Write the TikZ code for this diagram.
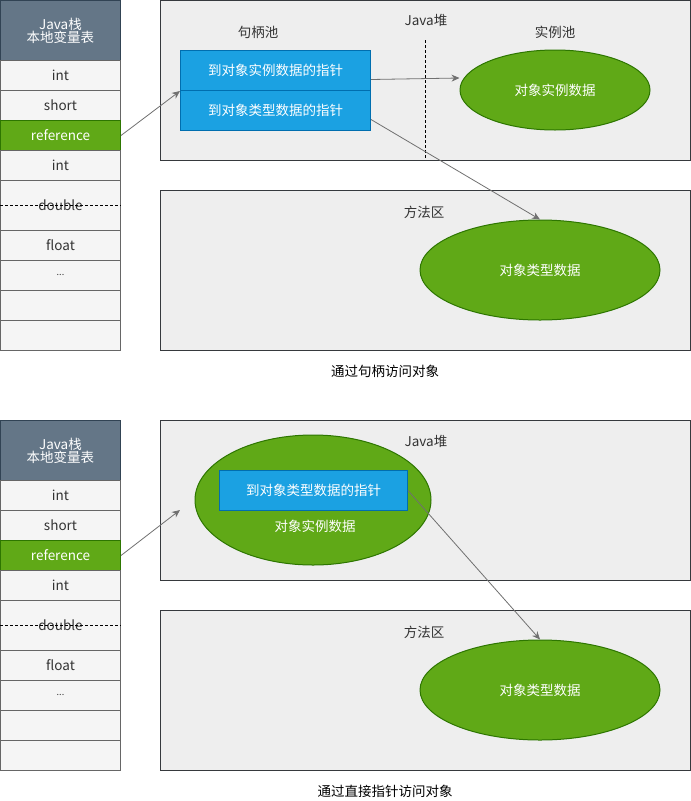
\documentclass[tikz,border=0pt]{standalone}
\usepackage{fontspec}
\setmainfont{Noto Sans CJK SC}
\usetikzlibrary{arrows.meta}
\definecolor{hdrfill}{HTML}{647687}
\definecolor{hdrline}{HTML}{314354}
\definecolor{rowfill}{HTML}{F5F5F5}
\definecolor{rowline}{HTML}{666666}
\definecolor{grnfill}{HTML}{60A917}
\definecolor{grnline}{HTML}{2D7600}
\definecolor{blufill}{HTML}{1BA1E2}
\definecolor{bluline}{HTML}{006EAF}
\definecolor{boxfill}{HTML}{EEEEEE}
\definecolor{boxline}{HTML}{36393D}
\definecolor{txt}{HTML}{333333}
\definecolor{arr}{HTML}{707070}
\tikzset{
  base/.style={inner sep=0pt, anchor=north west, line width=1pt, font=\fontsize{13.5}{16}\selectfont},
  hdr/.style={base, draw=hdrline, fill=hdrfill, text=white, minimum width=120pt, minimum height=60pt, align=center},
  row/.style={base, draw=rowline, fill=rowfill, text=txt, minimum width=120pt, minimum height=30pt},
  refrow/.style={base, draw=grnline, fill=grnfill, text=white, minimum width=120pt, minimum height=30pt},
  area/.style={base, draw=boxline, fill=boxfill, minimum width=530pt, minimum height=160pt},
  ptr/.style={base, draw=bluline, fill=blufill, text=white, minimum width=190pt, minimum height=40pt},
  blob/.style={ellipse, draw=grnline, fill=grnfill, text=white, line width=1pt, inner sep=0pt, font=\fontsize{13.5}{16}\selectfont},
  lbl/.style={inner sep=0pt, text=txt, font=\fontsize{13.5}{16}\selectfont},
  conn/.style={draw=arr, line width=0.8pt, -{Stealth[length=8pt,width=7pt]}}
}
\usetikzlibrary{shapes.geometric}
\newcommand\jstack[2]{%
  \node[hdr] (#1h) at (0,#2) {Java栈\\[-3pt]本地变量表};
  \node[row] (#1a) at (0,#2+60) {int};
  \node[row] (#1b) at (0,#2+90) {short};
  \node[refrow] (#1ref) at (0,#2+120) {reference};
  \node[row] (#1c) at (0,#2+150) {int};
  \node[row, minimum height=50pt] (#1d) at (0,#2+180) {double};
  \draw[black, line width=0.7pt, dash pattern=on 3pt off 2pt] (#1d.west) -- (#1d.east);
  \node[row] (#1e) at (0,#2+230) {float};
  \node[row] (#1f) at (0,#2+260) {\raisebox{2pt}{\fontsize{9}{9}\selectfont ...}};
  \node[row] (#1g) at (0,#2+290) {};
  \node[row] (#1i) at (0,#2+320) {};
}
\begin{document}
\begin{tikzpicture}[x=1pt,y=-1pt]
\useasboundingbox (0,0) rectangle (691,801);
% ---------- top diagram ----------
\jstack{s}{0}
\node[area] (heap1) at (160,0) {};
\node[area] (meth1) at (160,190) {};
\node[lbl] (lh) at (258,32) {句柄池};
\node[lbl] (lj1) at (426,20) {Java堆};
\node[lbl] (li) at (555,32) {实例池};
\coordinate (dtop) at (425,40);
\coordinate (dbot) at (425,158);
\draw[black, line width=0.7pt, dash pattern=on 3pt off 2pt] (dtop) -- (dbot);
\node[ptr] (p1) at (180,50) {到对象实例数据的指针};
\node[ptr] (p2) at (180,90) {到对象类型数据的指针};
\node[blob, minimum width=190pt, minimum height=80pt] (inst1) at (555,90) {对象实例数据};
\node[lbl] (lm1) at (424,212) {方法区};
\node[blob, minimum width=240pt, minimum height=100pt] (type1) at (540,270) {对象类型数据};
\node[lbl, text=black] (cap1) at (385,371) {通过句柄访问对象};
\draw[conn] (sref.east) -- (p1.south west);
\draw[conn] ([yshift=-9pt]p1.east) -- (inst1.west |- 0,78);
\draw[conn] ([yshift=-9pt]p2.east) -- (type1.north);
% ---------- bottom diagram ----------
\jstack{t}{420}
\node[area] (heap2) at (160,420) {};
\node[area] (meth2) at (160,610) {};
\node[lbl] (lj2) at (426,441) {Java堆};
\node[blob, minimum width=236pt, minimum height=130pt] (inst2) at (313,500) {};
\node[ptr, minimum width=188pt] (p3) at (219,470) {到对象类型数据的指针};
\node[lbl, text=white] (li2) at (315,526) {对象实例数据};
\coordinate (tip2) at (180,510);
\node[lbl] (lm2) at (424,632) {方法区};
\node[blob, minimum width=240pt, minimum height=100pt] (type2) at (540,690) {对象类型数据};
\node[lbl, text=black] (cap2) at (385,791) {通过直接指针访问对象};
\draw[conn] (tref.east) -- (tip2);
\draw[conn] (p3.east) -- (type2.north);
\end{tikzpicture}
\end{document}
